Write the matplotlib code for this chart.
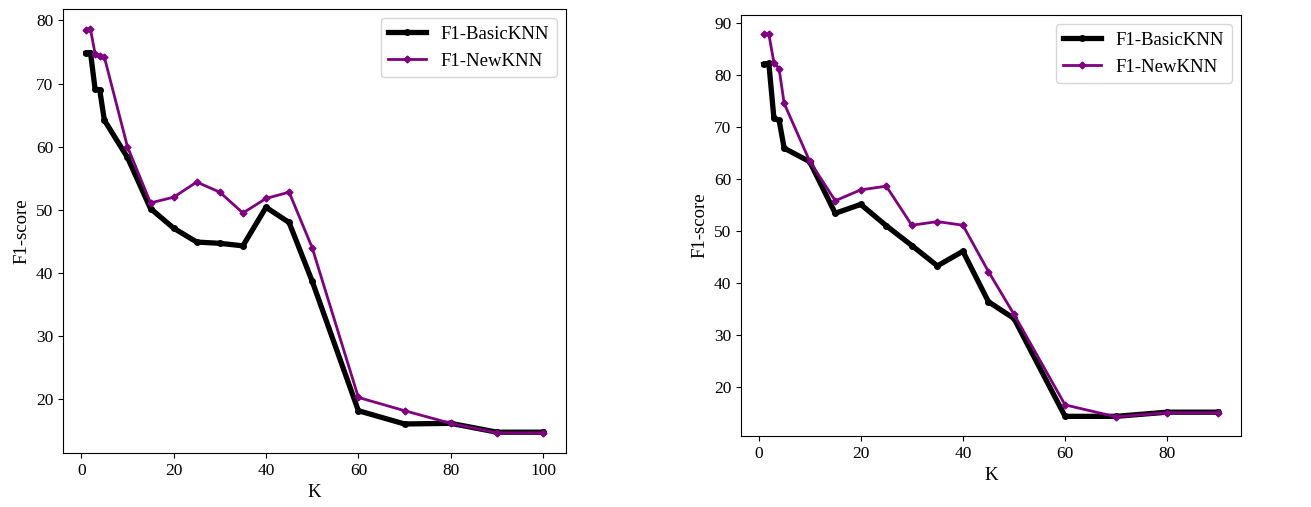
import matplotlib
matplotlib.use("Agg")
import matplotlib.pyplot as plt

plt.rcParams['font.family'] = ['Liberation Serif', 'DejaVu Serif']
plt.rcParams['mathtext.fontset'] = 'stix'

k_left = [1, 2, 3, 4, 5, 10, 15, 20, 25, 30, 35, 40, 45, 50, 60, 70, 80, 90, 100]
basic_left = [74.8, 74.9, 69.1, 69.0, 64.2, 58.3, 50.2, 47.1, 44.9, 44.7, 44.3, 50.4, 48.0, 38.7, 18.2, 16.1, 16.2, 14.8, 14.8]
new_left = [78.5, 78.6, 74.7, 74.4, 74.2, 60.0, 51.1, 52.0, 54.4, 52.8, 49.5, 51.8, 52.8, 44.0, 20.3, 18.2, 16.2, 14.7, 14.7]

k_right = [1, 2, 3, 4, 5, 10, 15, 20, 25, 30, 35, 40, 45, 50, 60, 70, 80, 90]
basic_right = [82.0, 82.2, 71.6, 71.3, 65.9, 63.3, 53.4, 55.1, 51.0, 47.2, 43.3, 46.1, 36.4, 33.2, 14.4, 14.4, 15.2, 15.2]
new_right = [87.8, 87.8, 82.3, 81.2, 74.5, 63.4, 55.8, 57.9, 58.6, 51.1, 51.8, 51.1, 42.2, 34.0, 16.6, 14.3, 15.1, 15.1]

fig = plt.figure(figsize=(13.11, 5.07), dpi=100)
ax1 = fig.add_axes([63/1311, 1 - 453/507, 503/1311, 444/507])
ax2 = fig.add_axes([741/1311, 1 - 436/507, 500/1311, 421/507])

for ax, k, b, n in [(ax1, k_left, basic_left, new_left), (ax2, k_right, basic_right, new_right)]:
    ax.plot(k, b, color='black', linewidth=3.8, marker='o', markersize=4, label='F1-BasicKNN')
    ax.plot(k, n, color='purple', linewidth=2, marker='D', markersize=3.5, label='F1-NewKNN')
    ax.set_xlabel('K', fontsize=13.5)
    ax.set_ylabel('F1-score', fontsize=13.5)
    ax.tick_params(labelsize=12.5)
    ax.legend(loc='upper right', fontsize=13.5)

ax1.set_xticks([0, 20, 40, 60, 80, 100])
ax1.set_yticks([20, 30, 40, 50, 60, 70, 80])
ax2.set_xticks([0, 20, 40, 60, 80])
ax2.set_yticks([20, 30, 40, 50, 60, 70, 80, 90])

fig.savefig('out.png', dpi=100)
